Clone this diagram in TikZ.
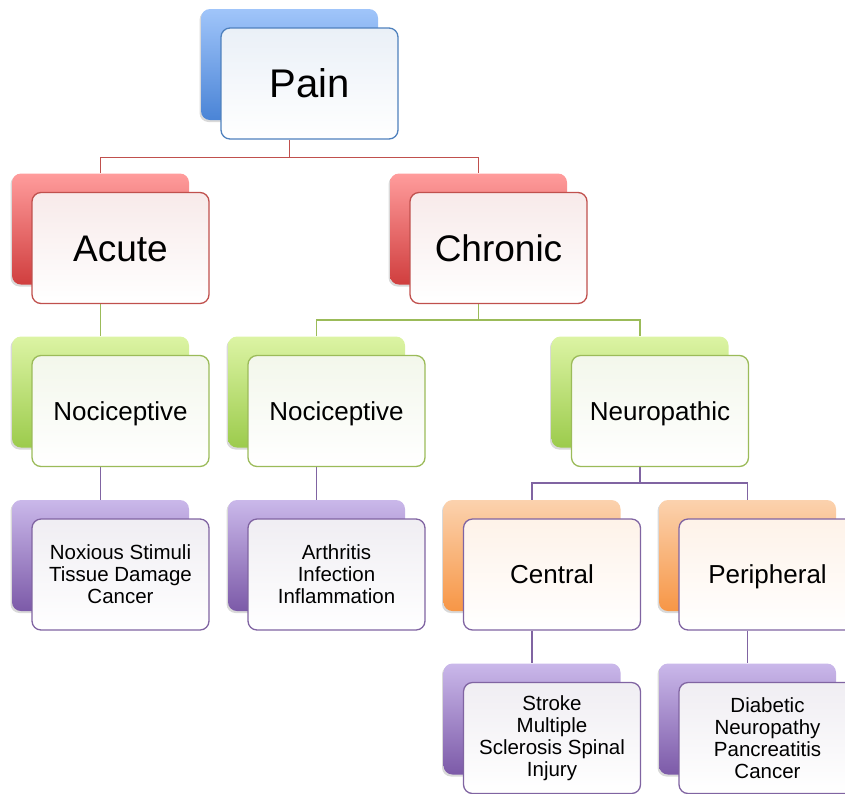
\documentclass[tikz,border=0pt]{standalone}
\usepackage{fontspec}
\setmainfont{Liberation Sans}
\usetikzlibrary{shadows,backgrounds}

\definecolor{bluetop}{HTML}{A0C5FA}
\definecolor{bluebot}{HTML}{4A84D6}
\definecolor{blueline}{HTML}{4F81BD}
\definecolor{redtop}{HTML}{FF9C9C}
\definecolor{redbot}{HTML}{D03E3E}
\definecolor{redline}{HTML}{C0504D}
\definecolor{greentop}{HTML}{DCF4A4}
\definecolor{greenbot}{HTML}{9CCB4C}
\definecolor{greenline}{HTML}{9BBB59}
\definecolor{purpletop}{HTML}{CAB8EA}
\definecolor{purplebot}{HTML}{7C5AA8}
\definecolor{purpleline}{HTML}{8064A2}
\definecolor{orangetop}{HTML}{FBD2AE}
\definecolor{orangebot}{HTML}{F79646}

\tikzset{
    card/.style={rounded corners=9pt, minimum width=177pt, minimum height=111pt, inner sep=2pt},
    backcard/.style n args={3}{card, top color=#1, middle color=#2, bottom color=#3,
        drop shadow={opacity=0.3, shadow xshift=-1.5pt, shadow yshift=-2pt}},
    frontcard/.style 2 args={card, draw=#2, line width=1.3pt, top color=#1!12, middle color=#1!9, bottom color=white, align=center},
    bigtext/.style={font=\fontsize{40}{44}\selectfont, text height=28.8pt, text depth=0pt},
    midtext/.style={font=\fontsize{37}{40}\selectfont, text height=26.6pt, text depth=0pt},
    smalltext/.style={font=\fontsize{26}{30}\selectfont, text height=18.7pt, text depth=0pt},
    listtext/.style={font=\fontsize{20.5}{22}\selectfont},
    link/.style={draw=#1, line width=1.5pt},
}

\begin{document}
\begin{tikzpicture}[x=1pt, y=-1pt]
    \path[use as bounding box, clip] (0,0) rectangle (845,793);

    % level 1
    \node[backcard={bluetop}{bluetop!50!bluebot}{bluebot}] (painb) at (289.5,64.5) {};
    \node[frontcard={blueline}{blueline}, bigtext] (pain) at ([shift={(20,19)}]painb) {Pain};

    % level 2
    \node[backcard={redtop}{redtop!50!redbot}{redbot}] (acuteb) at (100.5,229) {};
    \node[frontcard={redline}{redline}, midtext] (acute) at ([shift={(20,19)}]acuteb) {Acute};
    \node[backcard={redtop}{redtop!50!redbot}{redbot}] (chronicb) at (478.5,229) {};
    \node[frontcard={redline}{redline}, midtext] (chronic) at ([shift={(20,19)}]chronicb) {Chronic};

    % level 3
    \node[backcard={greentop}{greentop!50!greenbot}{greenbot}] (noci1b) at (100.5,392) {};
    \node[frontcard={greenline}{greenline}, smalltext] (noci1) at ([shift={(20,19)}]noci1b) {Nociceptive};
    \node[backcard={greentop}{greentop!50!greenbot}{greenbot}] (noci2b) at (316.5,392) {};
    \node[frontcard={greenline}{greenline}, smalltext] (noci2) at ([shift={(20,19)}]noci2b) {Nociceptive};
    \node[backcard={greentop}{greentop!50!greenbot}{greenbot}] (neurob) at (640,392) {};
    \node[frontcard={greenline}{greenline}, smalltext] (neuro) at ([shift={(20,19)}]neurob) {Neuropathic};

    % level 4
    \node[backcard={purpletop}{purpletop!50!purplebot}{purplebot}] (noxb) at (100.5,555.5) {};
    \node[frontcard={purpleline!70!gray}{purpleline}, listtext] (nox) at ([shift={(20,19)}]noxb) {Noxious Stimuli\\Tissue Damage\\Cancer};
    \node[backcard={purpletop}{purpletop!50!purplebot}{purplebot}] (arthb) at (316.5,555.5) {};
    \node[frontcard={purpleline!70!gray}{purpleline}, listtext] (arth) at ([shift={(20,19)}]arthb) {Arthritis\\Infection\\Inflammation};
    \node[backcard={orangetop}{orangebot}{orangebot}] (centralb) at (532,555.5) {};
    \node[frontcard={orangebot}{purpleline}, smalltext] (central) at ([shift={(20,19)}]centralb) {Central};
    \node[backcard={orangetop}{orangebot}{orangebot}] (periphb) at (747.5,555.5) {};
    \node[frontcard={orangebot}{purpleline}, smalltext] (periph) at ([shift={(20,19)}]periphb) {Peripheral};

    % level 5
    \node[backcard={purpletop}{purpletop!50!purplebot}{purplebot}] (strokeb) at (532,719) {};
    \node[frontcard={purpleline!70!gray}{purpleline}, listtext] (stroke) at ([shift={(20,19)}]strokeb) {Stroke\\Multiple\\Sclerosis Spinal\\Injury};
    \node[backcard={purpletop}{purpletop!50!purplebot}{purplebot}] (diabb) at (747.5,719) {};
    \node[frontcard={purpleline!70!gray}{purpleline}, listtext] (diab) at ([shift={(20,19)}]diabb) {Diabetic\\Neuropathy\\Pancreatitis\\Cancer};

    \begin{pgfonlayer}{background}
        \draw[link=redline] (pain.south -| painb) -- ++(0,18) coordinate (painjoin);
        \draw[link=redline] (acuteb.north) |- (painjoin) -| (chronicb.north);

        \draw[link=greenline] (acute.south -| acuteb) -- (noci1b.north);
        \draw[link=greenline] (chronic.south -| chronicb) -- ++(0,16) coordinate (chronicjoin);
        \draw[link=greenline] (noci2b.north) |- (chronicjoin) -| (neurob.north);

        \draw[link=purpleline] (noci1.south -| noci1b) -- (noxb.north);
        \draw[link=purpleline] (noci2.south -| noci2b) -- (arthb.north);
        \draw[link=purpleline] (neuro.south -| neurob) -- ++(0,16) coordinate (neurojoin);
        \draw[link=purpleline] (centralb.north) |- (neurojoin) -| (periphb.north);

        \draw[link=purpleline] (central.south -| centralb) -- (strokeb.north);
        \draw[link=purpleline] (periph.south -| periphb) -- (diabb.north);
    \end{pgfonlayer}
\end{tikzpicture}
\end{document}
